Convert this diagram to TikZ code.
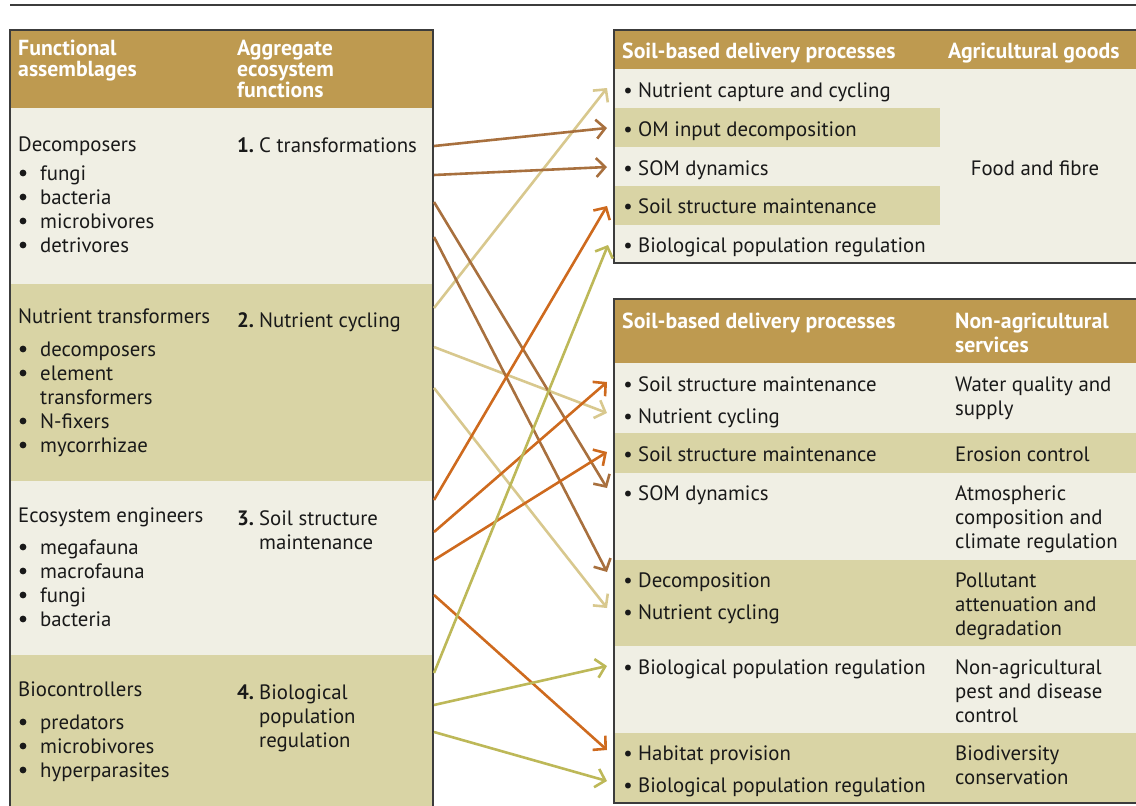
\documentclass[tikz,border=0pt]{standalone}
\usepackage{fontspec}
\setmainfont{PT Sans}
\usetikzlibrary{arrows.meta}
\definecolor{hdrc}{RGB}{190,154,80}
\definecolor{lightc}{RGB}{240,239,228}
\definecolor{darkc}{RGB}{217,212,165}
\definecolor{bordc}{RGB}{60,60,60}
\definecolor{txtc}{RGB}{25,25,25}
\definecolor{brownc}{RGB}{168,112,62}
\definecolor{tanc}{RGB}{216,200,142}
\definecolor{orangec}{RGB}{206,106,30}
\definecolor{olivec}{RGB}{189,184,88}
\newcommand\mytxt[4]{\node[txt] (#1) at (#2,#3) {#4};}
\newcommand\myhd[4]{\node[hd] (#1) at (#2,#3) {#4};}
\newcommand\lbul[3]{\node[bigdot] (#1b) at (23,#2-7) {}; \node[txt] (#1) at (40,#2) {#3};}
\newcommand\rbul[3]{\node[bul] (#1b) at (628,#2) {\textbullet}; \node[txt] (#1) at (638,#2) {#3};}
\begin{document}
\begin{tikzpicture}[x=1pt,y=-1pt,
  font=\fontsize{20.8}{24}\selectfont,
  txt/.style={anchor=base west, inner sep=0pt, text=txtc},
  bul/.style={anchor=base, inner sep=0pt, text=txtc},
  bigdot/.style={circle, fill=txtc, inner sep=0pt, minimum size=6.8pt},
  hd/.style={anchor=base west, inner sep=0pt, text=white, font=\fontsize{21.8}{21}\selectfont\bfseries},
  conn/.style={line width=2.6pt, -{Straight Barb[length=9pt,width=19pt]}},
  bord/.style={draw=bordc, line width=1.3pt}]
\useasboundingbox (0,0) rectangle (1136,806);
\begin{scope}
\clip (0,0) rectangle (1136,806);
\draw[line width=1.6pt, bordc] (10,5) -- (1140,5);
% ---------- left table ----------
\fill[hdrc] (10,30) rectangle (433,108);
\fill[lightc] (10,108) rectangle (433,284);
\fill[darkc] (10,284) rectangle (433,481);
\fill[lightc] (10,481) rectangle (433,655);
\fill[darkc] (10,655) rectangle (433,812);
\draw[bord] (10,812) -- (10,30) -- (433,30) -- (433,812);
% ---------- top right table ----------
\fill[hdrc] (614,30) rectangle (1140,69);
\fill[lightc] (614,69) rectangle (1140,263);
\fill[darkc] (614,108) rectangle (940,147);
\fill[darkc] (614,186) rectangle (940,225);
\draw[bord] (1140,30) -- (614,30) -- (614,263) -- (1140,263);
% ---------- bottom right table ----------
\fill[hdrc] (614,299) rectangle (1140,363);
\fill[lightc] (614,363) rectangle (1140,433);
\fill[darkc] (614,433) rectangle (1140,473);
\fill[lightc] (614,473) rectangle (1140,560);
\fill[darkc] (614,560) rectangle (1140,646);
\fill[lightc] (614,646) rectangle (1140,733);
\fill[darkc] (614,733) rectangle (1140,803);
\draw[bord] (1140,299) -- (614,299) -- (614,803) -- (1140,803);
\end{scope}
% ---------- left table text ----------
\myhd{hA1}{18}{55}{Functional}
\myhd{hA2}{18}{76}{assemblages}
\myhd{hB1}{237}{55}{Aggregate}
\myhd{hB2}{237}{76}{ecosystem}
\myhd{hB3}{237}{97}{functions}
\mytxt{g1}{18}{151}{Decomposers}
\lbul{g1a}{180}{fungi}
\lbul{g1b}{204}{bacteria}
\lbul{g1c}{228}{microbivores}
\lbul{g1d}{252}{detrivores}
\node[txt] (f1n) at (237,152) {\bfseries 1.};
\mytxt{f1}{259}{152}{C transformations}
\mytxt{g2}{18}{323}{Nutrient transformers}
\lbul{g2a}{356}{decomposers}
\lbul{g2b}{380}{element}
\mytxt{g2bb}{40}{404}{transformers}
\lbul{g2c}{428}{N-fixers}
\lbul{g2d}{452}{mycorrhizae}
\node[txt] (f2n) at (237,327) {\bfseries 2.};
\mytxt{f2}{259}{327}{Nutrient cycling}
\mytxt{g3}{18}{522}{Ecosystem engineers}
\lbul{g3a}{554}{megafauna}
\lbul{g3b}{578}{macrofauna}
\lbul{g3c}{602}{fungi}
\lbul{g3d}{626}{bacteria}
\node[txt] (f3n) at (237,525) {\bfseries 3.};
\mytxt{f3}{259}{525}{Soil structure}
\mytxt{f3b}{259}{549}{maintenance}
\mytxt{g4}{18}{696}{Biocontrollers}
\lbul{g4a}{729}{predators}
\lbul{g4b}{753}{microbivores}
\lbul{g4c}{777}{hyperparasites}
\node[txt] (f4n) at (237,699) {\bfseries 4.};
\mytxt{f4}{259}{699}{Biological}
\mytxt{f4b}{259}{723}{population}
\mytxt{f4c}{259}{747}{regulation}
% ---------- top right text ----------
\myhd{hC1}{622}{58}{Soil-based delivery processes}
\myhd{hC2}{948}{58}{Agricultural goods}
\rbul{p1}{97}{Nutrient capture and cycling}
\rbul{p2}{136}{OM input decomposition}
\rbul{p3}{175}{SOM dynamics}
\rbul{p4}{213}{Soil structure maintenance}
\rbul{p5}{252}{Biological population regulation}
\node[anchor=base, inner sep=0pt, text=txtc] (food) at (1035,175) {Food and fibre};
% ---------- bottom right text ----------
\myhd{hD1}{622}{328}{Soil-based delivery processes}
\myhd{hD2}{955}{328}{Non-agricultural}
\myhd{hD3}{955}{352}{services}
\rbul{q1}{391}{Soil structure maintenance}
\rbul{q2}{423}{Nutrient cycling}
\mytxt{s1a}{955}{391}{Water quality and}
\mytxt{s1b}{955}{415}{supply}
\rbul{q3}{461}{Soil structure maintenance}
\mytxt{s2a}{955}{461}{Erosion control}
\rbul{q4}{500}{SOM dynamics}
\mytxt{s3a}{955}{500}{Atmospheric}
\mytxt{s3b}{955}{524}{composition and}
\mytxt{s3c}{955}{548}{climate regulation}
\rbul{q5}{587}{Decomposition}
\rbul{q6}{619}{Nutrient cycling}
\mytxt{s4a}{955}{587}{Pollutant}
\mytxt{s4b}{955}{611}{attenuation and}
\mytxt{s4c}{955}{635}{degradation}
\rbul{q7}{674}{Biological population regulation}
\mytxt{s5a}{955}{674}{Non-agricultural}
\mytxt{s5b}{955}{698}{pest and disease}
\mytxt{s5c}{955}{722}{control}
\rbul{q8}{760}{Habitat provision}
\rbul{q9}{792}{Biological population regulation}
\mytxt{s6a}{955}{760}{Biodiversity}
\mytxt{s6b}{955}{784}{conservation}
% ---------- connector end points ----------
\coordinate (b1s) at (434,146); \coordinate (b1e) at (607,128);
\coordinate (b2s) at (434,175); \coordinate (b2e) at (607,167);
\coordinate (b3s) at (434,202); \coordinate (b3e) at (607,488);
\coordinate (b4s) at (434,237); \coordinate (b4e) at (607,572);
\coordinate (t1s) at (434,308); \coordinate (t1e) at (607,88);
\coordinate (t2s) at (434,347); \coordinate (t2e) at (607,413);
\coordinate (t3s) at (434,388); \coordinate (t3e) at (607,608);
\coordinate (o1s) at (434,500); \coordinate (o1e) at (607,206);
\coordinate (o2s) at (434,532); \coordinate (o2e) at (607,382);
\coordinate (o3s) at (434,560); \coordinate (o3e) at (607,452);
\coordinate (o4s) at (434,595); \coordinate (o4e) at (607,750);
\coordinate (v1s) at (434,673); \coordinate (v1e) at (608,245);
\coordinate (v2s) at (434,705); \coordinate (v2e) at (607,666);
\coordinate (v3s) at (434,732); \coordinate (v3e) at (607,781);
% ---------- connectors ----------
\draw[conn, tanc] (t1s) -- (t1e);
\draw[conn, tanc] (t2s) -- (t2e);
\draw[conn, tanc] (t3s) -- (t3e);
\draw[conn, brownc] (b1s) -- (b1e);
\draw[conn, brownc] (b2s) -- (b2e);
\draw[conn, brownc] (b3s) -- (b3e);
\draw[conn, brownc] (b4s) -- (b4e);
\draw[conn, orangec] (o1s) -- (o1e);
\draw[conn, orangec] (o2s) -- (o2e);
\draw[conn, orangec] (o3s) -- (o3e);
\draw[conn, orangec] (o4s) -- (o4e);
\draw[conn, olivec] (v1s) -- (v1e);
\draw[conn, olivec] (v2s) -- (v2e);
\draw[conn, olivec] (v3s) -- (v3e);
\end{tikzpicture}
\end{document}
